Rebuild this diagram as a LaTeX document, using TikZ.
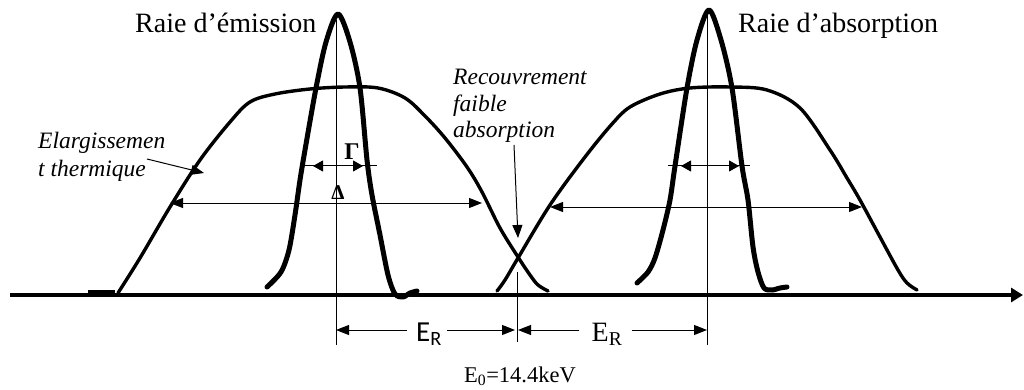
\documentclass[tikz,border=0pt]{standalone}
\usepackage{fontspec}
\setmainfont{Liberation Serif}
\newfontfamily\calib{Carlito}
\usetikzlibrary{arrows.meta}
\begin{document}
\begin{tikzpicture}[x=1pt,y=-1pt,
  narrowline/.style={line width=5pt, line cap=round, line join=round},
  broadline/.style={line width=3.4pt, line cap=round, line join=round},
  thinline/.style={line width=1pt},
  tip/.style={-{Triangle[length=13pt,width=10pt]}},
  dimarrow/.style={thinline,{Triangle[length=13pt,width=10pt]}-{Triangle[length=13pt,width=10pt]}},
  gamarrow/.style={thinline,{Triangle[length=10pt,width=11pt]}-{Triangle[length=10pt,width=11pt]}},
  lab/.style={anchor=base west, inner sep=0pt, font=\fontsize{28}{28}\selectfont},
  itlab/.style={anchor=base west, inner sep=0pt, font=\itshape\fontsize{23.5}{23.5}\selectfont},
]
\useasboundingbox (0,0) rectangle (1024,390);

% axis
\coordinate (ax0) at (10,295);
\coordinate (ax1) at (1023,295);
\draw[line width=4.5pt,-{Triangle[length=12pt,width=14pt]}] (ax0) -- (ax1);
\draw[line width=3pt] (88,291) -- (115,291);

% broad (thermal) curves
\draw[broadline] plot[smooth,tension=0.55] coordinates {
 (118,293) (140,258) (170,207) (200,160) (230,122) (250,102) (275,94) (310,89)
 (345,87) (378,88) (405,98) (425,116) (445,138) (467,167) (482,192) (500,228)
 (518,257) (530,275) (538,285) (548,291)};
\draw[broadline] plot[smooth,tension=0.55] coordinates {
 (497,291) (505,280) (518,258) (550,205) (585,157) (612,124) (630,107) (660,94)
 (690,88) (730,87) (767,90) (800,108) (830,150) (847,178) (860,200) (880,237)
 (898,270) (907,283) (917,290)};

% narrow (natural) lines
\draw[narrowline] plot[smooth,tension=0.5] coordinates {
 (267,287) (281,272) (289,250) (295,215) (300,180) (305,150) (316,88) (326,42)
 (338,14) (350,42) (360,88) (367,160) (372,195) (380,235) (388,275) (395,294)
 (403,297) (410,293) (417,291)};
\draw[narrowline] plot[smooth,tension=0.5] coordinates {
 (637,283) (648,272) (655,258) (663,230) (670,200) (675,166) (687,88) (697,40)
 (709,10) (721,40) (732,88) (742,166) (748,200) (753,247) (758,272) (764,288)
 (772,290) (780,288) (787,287)};

% centre lines
\coordinate (ce1) at (336,20);  \coordinate (ce2) at (336,345);
\coordinate (ca1) at (707,15);  \coordinate (ca2) at (707,345);
\coordinate (cm1) at (517,272); \coordinate (cm2) at (517,342);
\draw[thinline] (ce1) -- (ce2);
\draw[thinline] (ca1) -- (ca2);
\draw[thinline] (cm1) -- (cm2);

% Gamma widths
\coordinate (ge0) at (300,166); \coordinate (ge1) at (313,166);
\coordinate (ge2) at (363,166); \coordinate (ge3) at (377,166);
\draw[thinline] (ge0) -- (ge3);
\draw[gamarrow] (ge1) -- (ge2);
\coordinate (ga0) at (668,166); \coordinate (ga1) at (681,166);
\coordinate (ga2) at (739,166); \coordinate (ga3) at (750,166);
\draw[thinline] (ga0) -- (ga3);
\draw[gamarrow] (ga1) -- (ga2);

% Delta widths
\coordinate (de1) at (170,203); \coordinate (de2) at (482,203);
\draw[dimarrow] (de1) -- (de2);
\coordinate (da1) at (550,207); \coordinate (da2) at (862,207);
\draw[dimarrow] (da1) -- (da2);

% E_R dimensions
\coordinate (erl1) at (336,330); \coordinate (erl2) at (515,330);
\coordinate (err1) at (518,330); \coordinate (err2) at (707,330);
\node[inner sep=0pt, font=\calib\fontsize{29}{29}\selectfont] (erA) at (429,334) {E\textsubscript{R}};
\node[inner sep=0pt, font=\fontsize{28}{28}\selectfont] (erB) at (607,334) {E\textsubscript{R}};
\draw[thinline,tip] ([xshift=-9pt]erA.west |- erl1) -- (erl1);
\draw[thinline,tip] ([xshift=5pt]erA.east |- erl1) -- (erl2);
\draw[thinline,tip] ([xshift=-12pt]erB.west |- err1) -- (err1);
\draw[thinline,tip] ([xshift=9pt]erB.east |- err1) -- (err2);

% labels
\node[lab] (emi) at (135,33) {Raie d’émission};
\node[lab] (abs) at (738,33) {Raie d’absorption};
\node[itlab] (el1) at (38,149) {Elargissemen};
\node[itlab] (el2) at (38,176) {t thermique};
\node[itlab] (re1) at (453,85) {Recouvrement};
\node[itlab] (re2) at (453,112) {faible};
\node[itlab] (re3) at (453,138) {absorption};
\node[inner sep=0pt, font=\bfseries\fontsize{24}{24}\selectfont] (gam) at (352,152) {Γ};
\node[anchor=base, inner sep=0pt, font=\bfseries\fontsize{21}{21}\selectfont] (del) at (338,199) {Δ};
\node[anchor=base, inner sep=0pt, font=\fontsize{22.5}{22.5}\selectfont] (e0) at (520,382) {E\textsubscript{0}=14.4keV};

% annotation arrows
\coordinate (elt) at (204,173);
\draw[thinline,{Triangle[length=13pt,width=10pt]}-] (elt) -- (147,159);
\coordinate (ret) at (518,238);
\draw[thinline,{Triangle[length=13pt,width=10pt]}-] (ret) -- (514,145);
\end{tikzpicture}
\end{document}
